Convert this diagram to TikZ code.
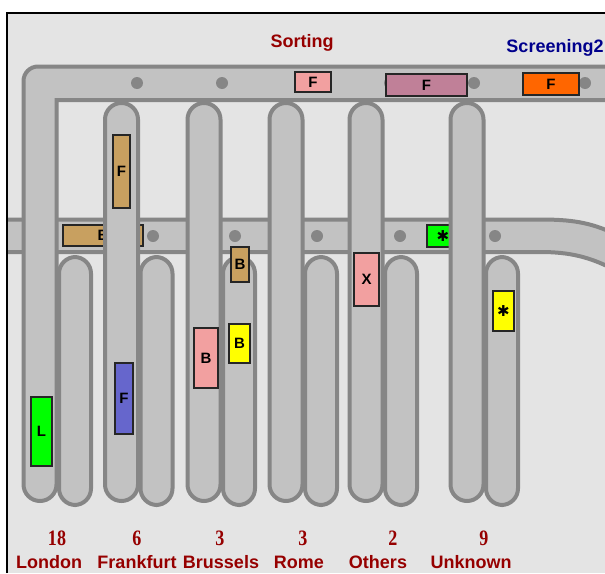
\documentclass[tikz,border=0pt]{standalone}
\usepackage{fontspec}
\setmainfont{Liberation Sans}
\newfontfamily\numfont[FakeStretch=0.82]{Liberation Serif}
\newfontfamily\symfont{DejaVu Sans}
\definecolor{panelgray}{RGB}{228,228,228}
\definecolor{railgray}{RGB}{194,194,194}
\definecolor{edgegray}{RGB}{134,134,134}
\definecolor{labelred}{RGB}{150,0,0}
\definecolor{labelblue}{RGB}{0,0,140}
\definecolor{bagpink}{RGB}{242,160,160}
\definecolor{bagmauve}{RGB}{192,128,152}
\definecolor{bagorange}{RGB}{255,102,0}
\definecolor{bagtan}{RGB}{200,160,96}
\definecolor{bagblue}{RGB}{102,102,204}
\definecolor{baggreen}{RGB}{0,255,0}
\definecolor{bagyellow}{RGB}{255,255,0}
\begin{document}
\begin{tikzpicture}[x=1pt,y=-1pt,
  rail/.style={fill=railgray,draw=edgegray,line width=4pt},
  tube/.style={rail,rounded corners=16.5pt},
  sensor/.style={fill=edgegray},
  bag/.style={draw=black!85,line width=1.2pt,inner sep=0pt,font=\bfseries\fontsize{15}{15}\selectfont},
  countlabel/.style={anchor=base,text=labelred,font=\numfont\bfseries\fontsize{22}{22}\selectfont},
  destlabel/.style={anchor=base,text=labelred,font=\bfseries\fontsize{18}{19}\selectfont}]
  \useasboundingbox (0,0) rectangle (605,573);
  \fill[white] (0,0) rectangle (605,573);
  \fill[panelgray] (7,13) rectangle (605,573);
  \begin{scope}
    \clip (7,13) rectangle (605,573);
    % lower track
    \fill[railgray] (0,219.5) -- (540,219.5) .. controls (570,219.5) and (590,222) .. (615,234)
      -- (615,270) .. controls (590,257) and (570,252) .. (540,252) -- (0,252) -- cycle;
    \draw[edgegray,line width=4pt] (0,219.5) -- (540,219.5) .. controls (570,219.5) and (590,222) .. (615,234);
    \draw[edgegray,line width=4pt] (0,252) -- (540,252) .. controls (570,252) and (590,257) .. (615,270);
    \foreach \x in {153,235,317,400,495}
      \fill[sensor] (\x,236) circle (6);
    \node[bag,fill=bagtan,minimum width=80,minimum height=21] (bagB1) at (103,235.5) {B};
    \node[bag,fill=baggreen,minimum width=32,minimum height=22] (bagS1) at (443,236) {\symfont ✱};
    % short chutes
    \foreach \c in {40,121.5,204,286,366,467}
      \draw[tube] (\c+35-16,257) rectangle (\c+35+16,505);
    % upper track and London chute
    \filldraw[rail] (615,66.5) -- (38,66.5) arc[start angle=270,end angle=180,radius=14.5]
      -- (23.5,484.5) arc[start angle=180,end angle=0,radius=16.5] -- (56.5,100) -- (615,100);
    \foreach \c in {121.5,204,286,366,467}
      \draw[tube] (\c-16.5,103) rectangle (\c+16.5,501);
    \foreach \x in {137,222,390,474,585}
      \fill[sensor] (\x,83) circle (6);
    \node[bag,fill=bagpink,minimum width=36,minimum height=20] (bagF1) at (313,82) {F};
    \node[bag,fill=bagmauve,minimum width=81,minimum height=22] (bagF2) at (426.5,85) {F};
    \node[bag,fill=bagorange,minimum width=56,minimum height=22] (bagF3) at (551,84) {F};
    \node[bag,fill=bagtan,minimum width=17,minimum height=73] (bagF4) at (121.5,171.5) {F};
    \node[bag,fill=bagblue,minimum width=18,minimum height=71] (bagF5) at (124,398.5) {F};
    \node[bag,fill=baggreen,minimum width=21,minimum height=69] (bagL1) at (41.5,431.5) {L};
    \node[bag,fill=bagtan,minimum width=18,minimum height=35] (bagB2) at (240,264.5) {B};
    \node[bag,fill=bagyellow,minimum width=21,minimum height=39] (bagB3) at (239.5,343.5) {B};
    \node[bag,fill=bagpink,minimum width=24,minimum height=60] (bagB4) at (206,358) {B};
    \node[bag,fill=bagpink,minimum width=25,minimum height=53] (bagX1) at (366.5,279.5) {X};
    \node[bag,fill=bagyellow,minimum width=21,minimum height=40] (bagS2) at (503.5,311) {\symfont ✱};
  \end{scope}
  \draw[line width=1.5pt] (7,573) -- (7,13) -- (605,13);
  \node[anchor=base,text=labelred,font=\bfseries\fontsize{18}{18}\selectfont] (sorting) at (302,47) {Sorting};
  \node[anchor=base,text=labelblue,font=\bfseries\fontsize{18}{18}\selectfont] (screening) at (555,52) {Screening2};
  \node[countlabel] (countLondon) at (57,545) {18};
  \node[countlabel] (countFrankfurt) at (137,545) {6};
  \node[countlabel] (countBrussels) at (220,545) {3};
  \node[countlabel] (countRome) at (303,545) {3};
  \node[countlabel] (countOthers) at (393,545) {2};
  \node[countlabel] (countUnknown) at (484,545) {9};
  \node[destlabel] (London) at (49,568) {London};
  \node[destlabel] (Frankfurt) at (137,568) {Frankfurt};
  \node[destlabel] (Brussels) at (221,568) {Brussels};
  \node[destlabel] (Rome) at (299,568) {Rome};
  \node[destlabel] (Others) at (378,568) {Others};
  \node[destlabel] (Unknown) at (471,568) {Unknown};
\end{tikzpicture}
\end{document}
